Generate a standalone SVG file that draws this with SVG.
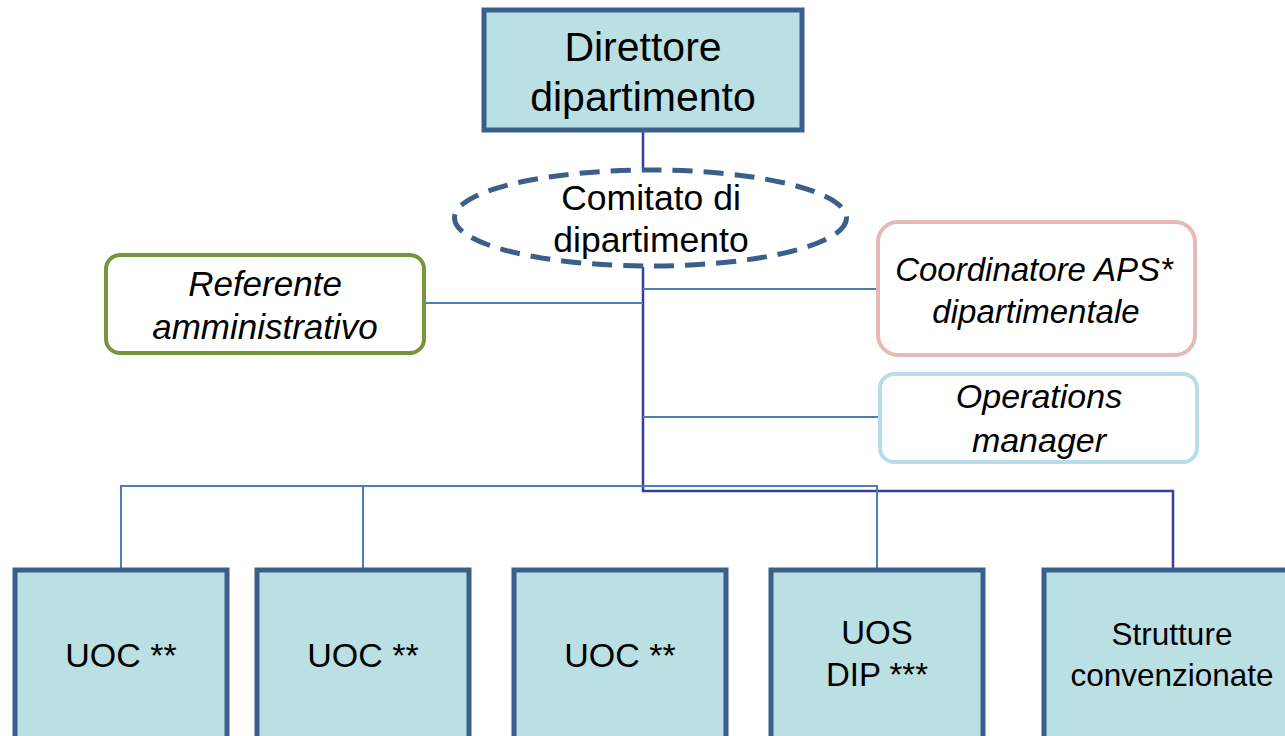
<svg xmlns="http://www.w3.org/2000/svg" width="1285" height="736" viewBox="0 0 1285 736">
<style>
.box{fill:#bbe0e3;stroke:#3a5f8b;stroke-width:5}
.t{font-family:"Liberation Sans",Arial,sans-serif;fill:#000;text-anchor:middle}
.it{font-style:italic}
.dark{fill:none;stroke:#3a3ca0;stroke-width:2.5}
.light{fill:none;stroke:#4a7ebb;stroke-width:2}
</style>
<rect width="1285" height="736" fill="#fff"/>
<g id="connectors">
<path class="dark" d="M643,131 V169 M643,267 V491 H1173 V568"/>
<path class="light" d="M425,303 H643 M643,289 H877 M643,417 H880"/>
<path class="light" d="M121,568 V486 H877 V568 M363,486 V568"/>
</g>
<g id="direttore">
<rect class="box" x="484" y="10" width="318" height="120"/>
<text class="t" font-size="41" x="643" y="61">Direttore</text>
<text class="t" font-size="41" x="643" y="111">dipartimento</text>
</g>
<g id="comitato">
<ellipse cx="650.5" cy="218" rx="196" ry="48" fill="#fff" stroke="#3a5f8b" stroke-width="5" stroke-dasharray="20 11"/>
<text class="t" font-size="35.5" x="651" y="210">Comitato di</text>
<text class="t" font-size="35.5" x="651" y="252">dipartimento</text>
</g>
<g id="referente">
<rect x="106" y="255" width="318" height="98" rx="14" fill="#fff" stroke="#77933c" stroke-width="4"/>
<text class="t it" font-size="35" x="265" y="296">Referente</text>
<text class="t it" font-size="35" x="265" y="339">amministrativo</text>
</g>
<g id="coordinatore">
<rect x="878" y="222" width="317" height="133" rx="20" fill="#fff" stroke="#e6b9b8" stroke-width="4"/>
<text class="t it" font-size="33" x="1034" y="281">Coordinatore APS*</text>
<text class="t it" font-size="33" x="1036" y="323">dipartimentale</text>
</g>
<g id="operations">
<rect x="880" y="374" width="317" height="88" rx="14" fill="#fff" stroke="#b7dee8" stroke-width="4"/>
<text class="t it" font-size="34" x="1039" y="408">Operations</text>
<text class="t it" font-size="34" x="1039" y="452">manager</text>
</g>
<g id="uoc1">
<rect class="box" x="15" y="570" width="212" height="175"/>
<text class="t" font-size="34" x="121" y="667">UOC **</text>
</g>
<g id="uoc2">
<rect class="box" x="257" y="570" width="212" height="175"/>
<text class="t" font-size="34" x="363" y="667">UOC **</text>
</g>
<g id="uoc3">
<rect class="box" x="514" y="570" width="212" height="175"/>
<text class="t" font-size="34" x="620" y="667">UOC **</text>
</g>
<g id="uos">
<rect class="box" x="771" y="570" width="212" height="175"/>
<text class="t" font-size="33" x="877" y="644">UOS</text>
<text class="t" font-size="33" x="877" y="686">DIP ***</text>
</g>
<g id="strutture">
<rect class="box" x="1044" y="570" width="260" height="175"/>
<text class="t" font-size="31.5" x="1172" y="645">Strutture</text>
<text class="t" font-size="31.5" x="1172" y="686">convenzionate</text>
</g>
</svg>
